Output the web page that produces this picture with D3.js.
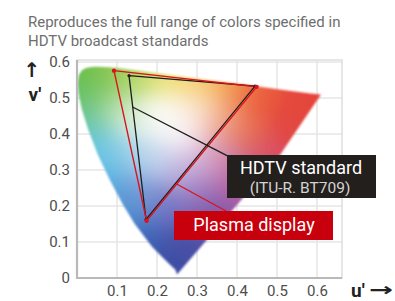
<!DOCTYPE html>
<html>
<head>
<meta charset="utf-8">
<script src="https://cdn.jsdelivr.net/npm/d3@7"></script>
<style>
body { margin: 0; background: #fff; }
svg { display: block; font-family: Roboto, "Noto Sans", sans-serif; }
</style>
</head>
<body>
<svg id="chart" width="395" height="301"></svg>
<script>
// text
var titleLines = ["Reproduces the full range of colors specified in", "HDTV broadcast standards"];
var uTicks = [0.1, 0.2, 0.3, 0.4, 0.5, 0.6];
var vTicks = [0, 0.1, 0.2, 0.3, 0.4, 0.5, 0.6];

// spectral locus outline (u', v'), tip -> green -> red end -> back along purple line
var locusU = [0.250, 0.246, 0.2347, 0.2161, 0.1877, 0.1441, 0.1147, 0.0828, 0.0521, 0.0282, 0.0119, 0.0035, 0.0014, 0.0046, 0.0123, 0.0231, 0.0360, 0.0501, 0.0792, 0.1127, 0.1531, 0.2026, 0.2623, 0.3315, 0.4035, 0.5203, 0.5830, 0.610, 0.5075];
var locusV = [0.010, 0.0226, 0.0350, 0.0549, 0.0871, 0.1510, 0.2044, 0.2708, 0.3427, 0.4117, 0.4698, 0.5131, 0.5432, 0.5638, 0.5770, 0.5837, 0.5861, 0.5868, 0.5856, 0.5821, 0.5766, 0.5694, 0.5604, 0.5501, 0.5393, 0.5219, 0.5125, 0.510, 0.342];

// gamut triangles (G, R, B)
var hdtvU = [0.130, 0.445, 0.1725];
var hdtvV = [0.562, 0.533, 0.1625];
var plasmaU = [0.0925, 0.449, 0.174];
var plasmaV = [0.576, 0.531, 0.159];

// callouts: line start on the triangle, end at the label box
var hdtvLeaderU = [0.139, 0.375];
var hdtvLeaderV = [0.475, 0.340];
var plasmaLeaderU = [0.249, 0.3725];
var plasmaLeaderV = [0.261, 0.186];

// colour keys for the painted diagram (u', v', colour)
var paint = [
    [0.05, 0.565, "#6cbd47"], [0.015, 0.50, "#62c062"], [0.02, 0.43, "#68c7b0"],
    [0.04, 0.36, "#5ec4e4"], [0.07, 0.28, "#50b0e2"], [0.11, 0.19, "#4190d2"],
    [0.16, 0.10, "#3b66b8"], [0.22, 0.03, "#3b4ca2"], [0.27, 0.10, "#4a4fa6"],
    [0.33, 0.18, "#7a55a8"], [0.40, 0.26, "#b0589e"], [0.47, 0.34, "#d84c6a"],
    [0.53, 0.43, "#e2463e"], [0.59, 0.50, "#e5453a"], [0.45, 0.50, "#ea5a3c"],
    [0.38, 0.53, "#f19a50"], [0.31, 0.55, "#f7cd68"], [0.24, 0.565, "#f3e27e"],
    [0.16, 0.575, "#c9df70"], [0.10, 0.575, "#9ccd57"], [0.09, 0.48, "#b4dca4"],
    [0.14, 0.44, "#e8f3e4"], [0.22, 0.45, "#fdfdfb"], [0.26, 0.40, "#f8f3f8"],
    [0.30, 0.47, "#fbeadb"], [0.36, 0.43, "#f2a88e"], [0.42, 0.40, "#e8704e"],
    [0.33, 0.34, "#dcb4d6"], [0.26, 0.30, "#c4b8e2"], [0.18, 0.33, "#c0d8ee"],
    [0.10, 0.35, "#90cfe8"], [0.15, 0.24, "#7e9cd6"], [0.22, 0.20, "#6e74c4"],
    [0.30, 0.24, "#a07cc0"], [0.38, 0.32, "#c97aa8"]
];

var svg = d3.select("#chart");
var pL = 77, pR = 342, pT = 60, pB = 278;
var x = d3.scaleLinear().domain([0, 0.6625]).range([pL, pR]);
var y = d3.scaleLinear().domain([0, 0.6056]).range([pB, pT]);

// title
svg.selectAll(".title").data(titleLines).enter().append("text")
    .attr("x", 28)
    .attr("y", function(d, i) { return 27 + i * 19; })
    .attr("font-size", 15)
    .attr("fill", "#6e6e6e")
    .text(function(d) { return d; })
    .each(function(d, i) {
        if (i == 0 && this.getComputedTextLength() > 331) {
            d3.select(this).attr("textLength", 331).attr("lengthAdjust", "spacingAndGlyphs");
        }
    });

// grid
var grid = svg.append("g");
grid.selectAll(".gv").data(uTicks).enter().append("line")
    .attr("x1", function(d) { return x(d); }).attr("x2", function(d) { return x(d); })
    .attr("y1", y(0)).attr("y2", pT)
    .attr("stroke", "#e6e6e6").attr("stroke-width", 1.5);
grid.selectAll(".gh").data(vTicks.slice(1)).enter().append("line")
    .attr("x1", pL).attr("x2", pR)
    .attr("y1", function(d) { return y(d); }).attr("y2", function(d) { return y(d); })
    .attr("stroke", "#e6e6e6").attr("stroke-width", 1.5);
grid.append("rect")
    .attr("x", pL).attr("y", pT).attr("width", pR - pL).attr("height", pB - pT)
    .attr("fill", "none").attr("stroke", "#dedede").attr("stroke-width", 1.5);

// painted diagram on a canvas: smooth blend of the colour keys
var cw = pR - pL, ch = pB - pT;
var canvas = document.createElement("canvas");
canvas.width = cw; canvas.height = ch;
var ctx = canvas.getContext("2d");
var img = ctx.createImageData(cw, ch);
var keys = paint.map(function(p) {
    var c = d3.rgb(p[2]);
    return { px: x(p[0]) - pL, py: y(p[1]) - pT, r: c.r, g: c.g, b: c.b };
});
var sig2 = 2 * 17 * 17;
for (var j = 0; j < ch; j++) {
    for (var i = 0; i < cw; i++) {
        var sw = 1e-12, sr = 0, sg = 0, sb = 0;
        keys.forEach(function(kk) {
            var dx = i - kk.px, dy = j - kk.py;
            var w = Math.exp(-(dx * dx + dy * dy) / sig2) + 1e-9 / (1 + dx * dx + dy * dy);
            sw += w; sr += w * kk.r; sg += w * kk.g; sb += w * kk.b;
        });
        var k = 4 * (j * cw + i);
        img.data[k] = sr / sw; img.data[k + 1] = sg / sw; img.data[k + 2] = sb / sw; img.data[k + 3] = 255;
    }
}
ctx.putImageData(img, 0, 0);

var defs = svg.append("defs");
var locus = locusU.map(function(u, i) { return [x(u), y(locusV[i])]; });
defs.append("clipPath").attr("id", "locusClip")
    .append("path").attr("d", d3.line()(locus) + "Z");
defs.append("filter").attr("id", "soft")
    .append("feGaussianBlur").attr("stdDeviation", 1.1);

svg.append("g").attr("filter", "url(#soft)")
    .append("image")
    .attr("href", canvas.toDataURL())
    .attr("x", pL).attr("y", pT).attr("width", cw).attr("height", ch)
    .attr("clip-path", "url(#locusClip)");

// axes
svg.append("line").attr("x1", pL).attr("x2", pL).attr("y1", pT).attr("y2", pB + 1)
    .attr("stroke", "#b9b9b9").attr("stroke-width", 2.2);
svg.append("line").attr("x1", pL).attr("x2", pR).attr("y1", pB).attr("y2", pB)
    .attr("stroke", "#b9b9b9").attr("stroke-width", 2.2);

var fmt = function(d) { return d === 0 ? "0" : d3.format(".1f")(d); };
var yAxis = svg.append("g").attr("transform", "translate(" + (pL - 7) + ",0)")
    .call(d3.axisLeft(y).tickValues(vTicks).tickFormat(fmt).tickSize(0).tickPadding(0));
var xAxis = svg.append("g").attr("transform", "translate(0," + (pB + 7) + ")")
    .call(d3.axisBottom(x).tickValues(uTicks).tickFormat(fmt).tickSize(0).tickPadding(0));
[yAxis, xAxis].forEach(function(a) {
    a.select(".domain").remove();
    a.selectAll("text").attr("font-family", "Roboto, sans-serif").attr("font-size", 15).attr("fill", "#4d4d4d");
});

// axis names
svg.append("text").attr("x", 32).attr("y", 77).attr("text-anchor", "middle")
    .attr("font-family", "DejaVu Sans").attr("font-size", 20).attr("font-weight", "bold")
    .attr("fill", "#222").text("\u2191");
svg.append("text").attr("x", 35).attr("y", 101).attr("text-anchor", "middle")
    .attr("font-size", 19).attr("font-weight", "bold").attr("fill", "#222").text("v'");
svg.append("text").attr("x", 351).attr("y", 297)
    .attr("font-size", 19).attr("font-weight", "bold").attr("fill", "#222").text("u'");
svg.append("text").attr("x", 369).attr("y", 296)
    .attr("font-family", "DejaVu Sans").attr("font-size", 18).attr("font-weight", "bold")
    .attr("textLength", 24).attr("lengthAdjust", "spacingAndGlyphs")
    .attr("fill", "#222").text("\u2192");

// triangles
function tri(us, vs) { return us.map(function(u, i) { return [x(u), y(vs[i])]; }); }
svg.append("path").attr("d", d3.line()(tri(hdtvU, hdtvV)) + "Z")
    .attr("fill", "none").attr("stroke", "#1e1e1e").attr("stroke-width", 1.3);
svg.append("path").attr("d", d3.line()(tri(plasmaU, plasmaV)) + "Z")
    .attr("fill", "none").attr("stroke", "#d9141c").attr("stroke-width", 1.4);
svg.selectAll(".dotk").data(tri(hdtvU, hdtvV)).enter().append("circle")
    .attr("cx", function(d) { return d[0]; }).attr("cy", function(d) { return d[1]; })
    .attr("r", 1.6).attr("fill", "#1e1e1e");
svg.selectAll(".dotr").data(tri(plasmaU, plasmaV)).enter().append("circle")
    .attr("cx", function(d) { return d[0]; }).attr("cy", function(d) { return d[1]; })
    .attr("r", 2.2).attr("fill", "#d9141c");

// leaders
svg.append("path").attr("d", d3.line()(tri(hdtvLeaderU, hdtvLeaderV)))
    .attr("stroke", "#1e1e1e").attr("stroke-width", 1.3);
svg.append("path").attr("d", d3.line()(tri(plasmaLeaderU, plasmaLeaderV)))
    .attr("stroke", "#d9141c").attr("stroke-width", 1.3);

// label boxes
svg.append("rect").attr("x", 227).attr("y", 155).attr("width", 149).attr("height", 43).attr("fill", "#231f1c");
svg.append("text").attr("x", 301).attr("y", 174).attr("text-anchor", "middle")
    .attr("font-size", 18).attr("fill", "#fff").text("HDTV standard");
svg.append("text").attr("x", 300).attr("y", 193).attr("text-anchor", "middle")
    .attr("font-size", 15.5).attr("fill", "#d4d4d4").text("(ITU-R. BT709)");
svg.append("rect").attr("x", 174).attr("y", 211).attr("width", 159).attr("height", 29).attr("fill", "#c8000e");
svg.append("text").attr("x", 254).attr("y", 231).attr("text-anchor", "middle")
    .attr("font-size", 18).attr("fill", "#fff").text("Plasma display");
</script>
</body>
</html>
